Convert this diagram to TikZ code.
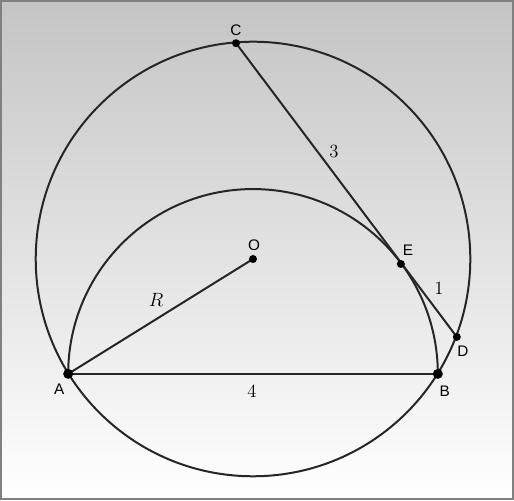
\documentclass[tikz,border=0pt]{standalone}
\usepackage{fontspec}
\newfontfamily\ptfont{Liberation Sans}
\begin{document}
\begin{tikzpicture}[x=0.75pt,y=0.75pt,line width=1.5pt,
    dot/.style={circle,fill=black,inner sep=0pt,minimum size=6pt},
    bigdot/.style={dot,minimum size=7.5pt},
    ptname/.style={font=\ptfont\fontsize{11.5}{13}\selectfont},
    len/.style={font=\fontsize{14}{16}\selectfont}]
  % background
  \shade[top color=black!23,bottom color=white] (0,0) rectangle (514,500);
  \draw[black!50] (0.75,0.75) rectangle (513.25,499.25);

  \coordinate (O) at (253,241);
  \coordinate (M) at (253,126);
  \coordinate (A) at (68,126);
  \coordinate (B) at (438,126);
  \coordinate (C) at (236,457);
  \coordinate (D) at (457,163);
  \coordinate (E) at (401,236);

  \draw[black!85] (O) circle[radius=217.5];
  \draw[black!85] (B) arc[start angle=0,end angle=180,radius=185];
  \draw[black!85] (A) -- (B);
  \draw[black!85] (A) -- (O);
  \draw[black!85] (C) -- (D);

  \foreach \p in {O,C,D,E} {
    \node[dot] (d\p) at (\p) {};
  }
  \foreach \p in {A,B} {
    \node[bigdot] (d\p) at (\p) {};
  }

  \node[ptname] at (236,470) {C};
  \node[ptname] at (254,255) {O};
  \node[ptname] at (408,250) {E};
  \node[ptname] at (463,149) {D};
  \node[ptname] at (445,109) {B};
  \node[ptname] at (59,111) {A};

  \node[len] at (334,349) {3};
  \node[len] at (439,212) {1};
  \node[len] at (252,109) {4};
  \node[len] at (156,200) {$R$};
\end{tikzpicture}
\end{document}
